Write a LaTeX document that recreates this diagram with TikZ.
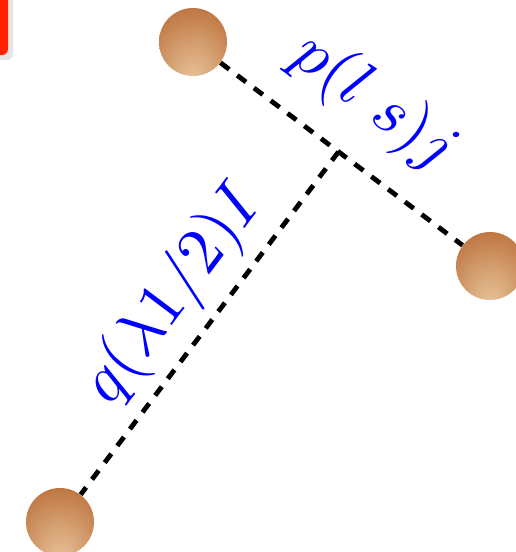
\documentclass[tikz,border=0pt]{standalone}
\usetikzlibrary{calc}
\definecolor{beadlight}{HTML}{E8C49A}
\definecolor{beadmid}{HTML}{BF7743}
\definecolor{beaddark}{HTML}{975020}
\definecolor{alert}{HTML}{FF2200}
\pgfdeclareradialshading{bead}{\pgfpoint{0bp}{-28bp}}{color(0bp)=(beadlight); color(16bp)=(beadlight!55!beadmid); color(34bp)=(beadmid); color(50bp)=(beaddark)}

\begin{document}
\begin{tikzpicture}[x=0.5pt,y=-0.5pt,
    bead/.style={circle,minimum size=34pt,inner sep=0pt,shading=bead},
    link/.style={line width=2.4pt,dash pattern=on 5.5pt off 5pt},
    lbl/.style={text=blue,scale=3.3,inner sep=0pt}]
  \useasboundingbox (0,0) rectangle (515,552);
  % red tab in the corner
  \fill[black!10,rounded corners=3pt] (-30,-10) rectangle (13,60);
  \fill[alert,rounded corners=3pt] (-30,-10) rectangle (8,55);

  \node[bead] (top) at (193,42) {};
  \node[bead] (rt)  at (490,266) {};
  \node[bead] (bot) at (60,522) {};
  \coordinate (mid) at ($(top)!0.49!(rt)$);

  \draw[link] (top) -- (rt);
  \draw[link] (mid) -- (bot);

  \node[lbl,rotate=-37] (ls)  at (374,103) {$p(l\;s)j$};
  \node[lbl,rotate=53]  (lam) at (174,295) {$q(\lambda 1/2)I$};
\end{tikzpicture}
\end{document}
